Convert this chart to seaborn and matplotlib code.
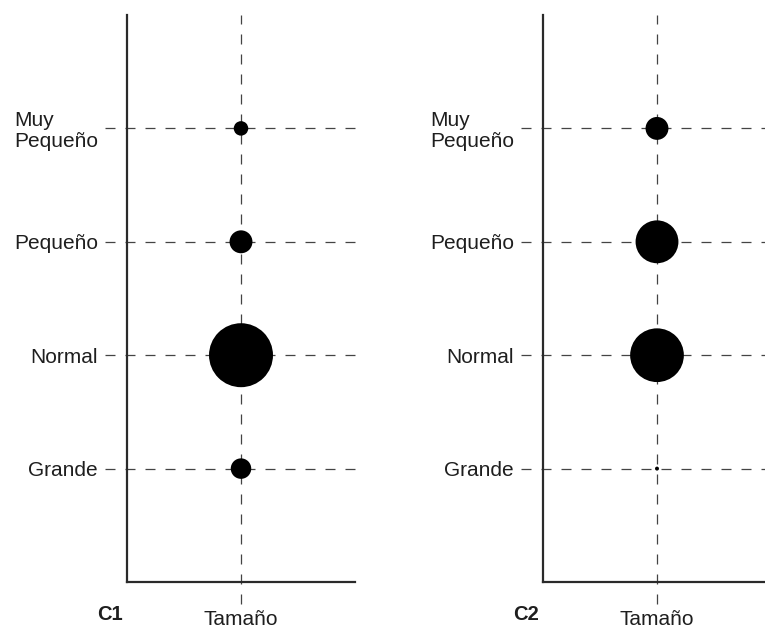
import matplotlib
matplotlib.use("Agg")
import matplotlib.pyplot as plt
import seaborn as sns
import pandas as pd

# Category levels (top to bottom) and the share of each level per cluster
categories = ["Muy\nPequeño", "Pequeño", "Normal", "Grande"]
variable = "Tamaño"
c1_values = [0.04, 0.10, 0.78, 0.08]
c2_values = [0.10, 0.35, 0.55, 0.003]
panel_titles = ["C1", "C2"]

sns.set_theme(style="white")
plt.rcParams["font.family"] = ["Liberation Sans", "DejaVu Sans"]

W, H = 765, 632
fig = plt.figure(figsize=(W / 100, H / 100), dpi=100)

ax_w, ax_h = 228, 567
ax_bottom = 50
lefts = [127, 543]
AREA_MAX = 2720  # marker area (pt^2) for a share of 1.0

text_color = "#1e1e1e"
dash_kw = dict(color="#444444", lw=0.9, linestyle=(0, (8, 8)), zorder=1, clip_on=False)

for left, title, values in zip(lefts, panel_titles, [c1_values, c2_values]):
    ax = fig.add_axes([left / W, ax_bottom / H, ax_w / W, ax_h / H])
    df = pd.DataFrame({"nivel": categories, "var": [variable] * len(categories), "p": values})
    sns.scatterplot(data=df, x="var", y="nivel", size="p", sizes=(0, AREA_MAX),
                    size_norm=(0, 1), color="black", linewidth=0, legend=False,
                    ax=ax, zorder=3)
    ax.set_xlim(-1, 1)
    ax.set_ylim(4, -1)
    ax.set_xlabel("")
    ax.set_ylabel("")

    # dashed guides, extending a little past the axes
    for yv in ax.get_yticks():
        ax.axhline(yv, xmin=-22 / ax_w, xmax=1, **dash_kw)
    for xv in ax.get_xticks():
        ax.axvline(xv, ymin=-22 / ax_h, ymax=1, **dash_kw)

    for side in ["top", "right"]:
        ax.spines[side].set_visible(False)
    for side in ["left", "bottom"]:
        ax.spines[side].set_color("#2a2a2a")
        ax.spines[side].set_linewidth(1.6)

    ax.tick_params(axis="y", length=0, pad=21, labelsize=15, labelcolor=text_color)
    ax.tick_params(axis="x", length=0, pad=20, labelsize=15, labelcolor=text_color)
    for lab in ax.get_yticklabels():
        lab.set_multialignment("left")
        lab.set_linespacing(1.1)

    fig.text((left - 30) / W, (H - 614) / H, title, fontsize=14.5, fontweight="bold",
             color=text_color, ha="left", va="center")

fig.savefig("out.png", dpi=100)
